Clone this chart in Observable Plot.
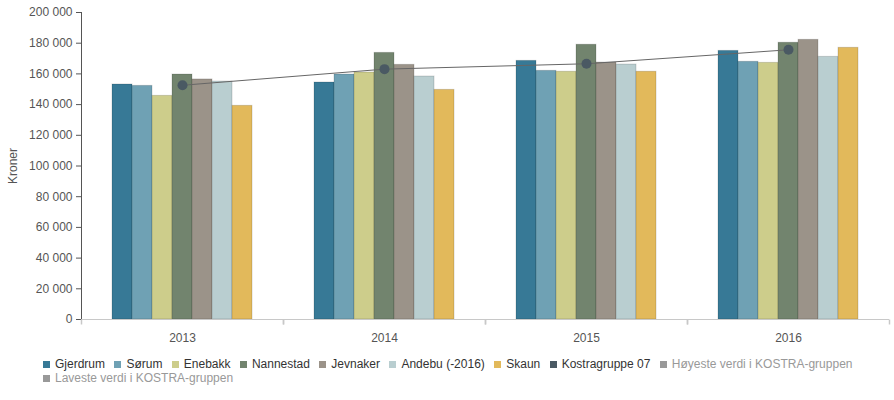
<!DOCTYPE html>
<html><head><meta charset="utf-8">
<script src="https://cdn.jsdelivr.net/npm/d3@7"></script>
<script src="https://cdn.jsdelivr.net/npm/@observablehq/plot@0.6"></script>
<style>
body{margin:0;background:#fff;font-family:"Liberation Sans",Arial,sans-serif;}
#wrap{position:relative;width:894px;height:348px;}
#overlay{position:absolute;left:0;top:0;pointer-events:none;}
#legend{margin-top:9px;padding-left:43px;width:840px;display:flex;flex-wrap:wrap;font-size:12px;line-height:14px;color:#333;}
.item{display:flex;align-items:center;margin-right:9.4px;white-space:nowrap;}
.sw{width:7px;height:7px;margin-right:5px;flex:none;}
</style></head><body>
<div id="wrap"><div id="chart"></div><div id="overlay"></div></div>
<div id="legend"></div>
<script>
const years = ["2013", "2014", "2015", "2016"];
const series = ["Gjerdrum", "Sørum", "Enebakk", "Nannestad", "Jevnaker", "Andebu (-2016)", "Skaun"];
const gjerdrum  = [153100, 154400, 168500, 175000];
const sorum     = [152200, 159600, 162000, 167900];
const enebakk   = [145700, 160900, 161400, 167200];
const nannestad = [159600, 173700, 179000, 180300];
const jevnaker  = [156400, 165900, 167400, 182200];
const andebu    = [155000, 158300, 166100, 171100];
const skaun     = [139200, 149600, 161400, 177000];
const kostra    = [152600, 163100, 166600, 175700];
const kostraName = "Kostragruppe 07";
const extraLegend = ["Høyeste verdi i KOSTRA-gruppen", "Laveste verdi i KOSTRA-gruppen"];
const yTicks = [0, 20000, 40000, 60000, 80000, 100000, 120000, 140000, 160000, 180000, 200000];
const colors = ["#377996", "#6fa1b4", "#cdcd8b", "#72846e", "#9b9389", "#b9ced0", "#e2b95b"];
const kostraColor = "#4a5963";
const greyColor = "#999999";

const seriesValues = [gjerdrum, sorum, enebakk, nannestad, jevnaker, andebu, skaun];
const rows = [];
years.forEach((y, i) => series.forEach((s, k) => rows.push({year: y, series: s, value: seriesValues[k][i]})));
const kostraRows = years.map((y, i) => ({year: y, value: kostra[i]}));

const W = 894, H = 348, ML = 81, MR = 5, MT = 12, MB = 29;
const fmt = d => d3.format(",")(d).replace(/,/g, " ");
const tickSymbol = {draw(ctx) { ctx.moveTo(0, 0); ctx.lineTo(0, 5); }};

const plotA = Plot.plot({
  width: W, height: H, marginLeft: ML, marginRight: MR, marginTop: MT, marginBottom: MB,
  style: {fontFamily: '"Liberation Sans", Arial, sans-serif', fontSize: "12px", background: "white", color: "#555"},
  facet: {data: rows, x: "year"},
  fx: {domain: years, padding: 0, label: null, tickSize: 0, tickPadding: 14},
  x: {domain: series, paddingInner: 0, paddingOuter: 1.475, axis: null},
  y: {domain: [0, 200000], ticks: yTicks, tickFormat: fmt, tickSize: 5, tickPadding: 4, line: true,
      label: "Kroner", labelArrow: "none", labelAnchor: "center", labelOffset: 73},
  color: {domain: series, range: colors},
  marks: [
    Plot.barY(rows, {x: "series", y: "value", fill: "series", stroke: "#000", strokeOpacity: 0.15, strokeWidth: 1}),
    Plot.ruleY([0], {stroke: "#c8c8c8"}),
    Plot.dot([0], {frameAnchor: "bottom-left", symbol: tickSymbol, fill: "none", stroke: "#c8c8c8"}),
    Plot.dot([0], {frameAnchor: "bottom-right", symbol: tickSymbol, fill: "none", stroke: "#c8c8c8"})
  ]
});
document.getElementById("chart").appendChild(plotA);

const plotB = Plot.plot({
  width: W, height: H, marginLeft: ML, marginRight: MR, marginTop: MT, marginBottom: MB,
  style: {background: "transparent"},
  x: {type: "point", domain: years, padding: 0.5, axis: null},
  y: {domain: [0, 200000], axis: null},
  marks: [
    Plot.line(kostraRows, {x: "year", y: "value", stroke: "#666", strokeWidth: 1}),
    Plot.dot(kostraRows, {x: "year", y: "value", r: 5, fill: kostraColor, stroke: "none"})
  ]
});
document.getElementById("overlay").appendChild(plotB);

const legend = document.getElementById("legend");
const items = series.map((s, k) => ({name: s, color: colors[k], text: "#333"}))
  .concat([{name: kostraName, color: kostraColor, text: "#333"}])
  .concat(extraLegend.map(n => ({name: n, color: greyColor, text: "#999"})));
items.forEach(it => {
  const d = document.createElement("div");
  d.className = "item";
  d.innerHTML = `<span class="sw" style="background:${it.color}"></span><span style="color:${it.text}">${it.name}</span>`;
  legend.appendChild(d);
});
</script>
</body></html>
